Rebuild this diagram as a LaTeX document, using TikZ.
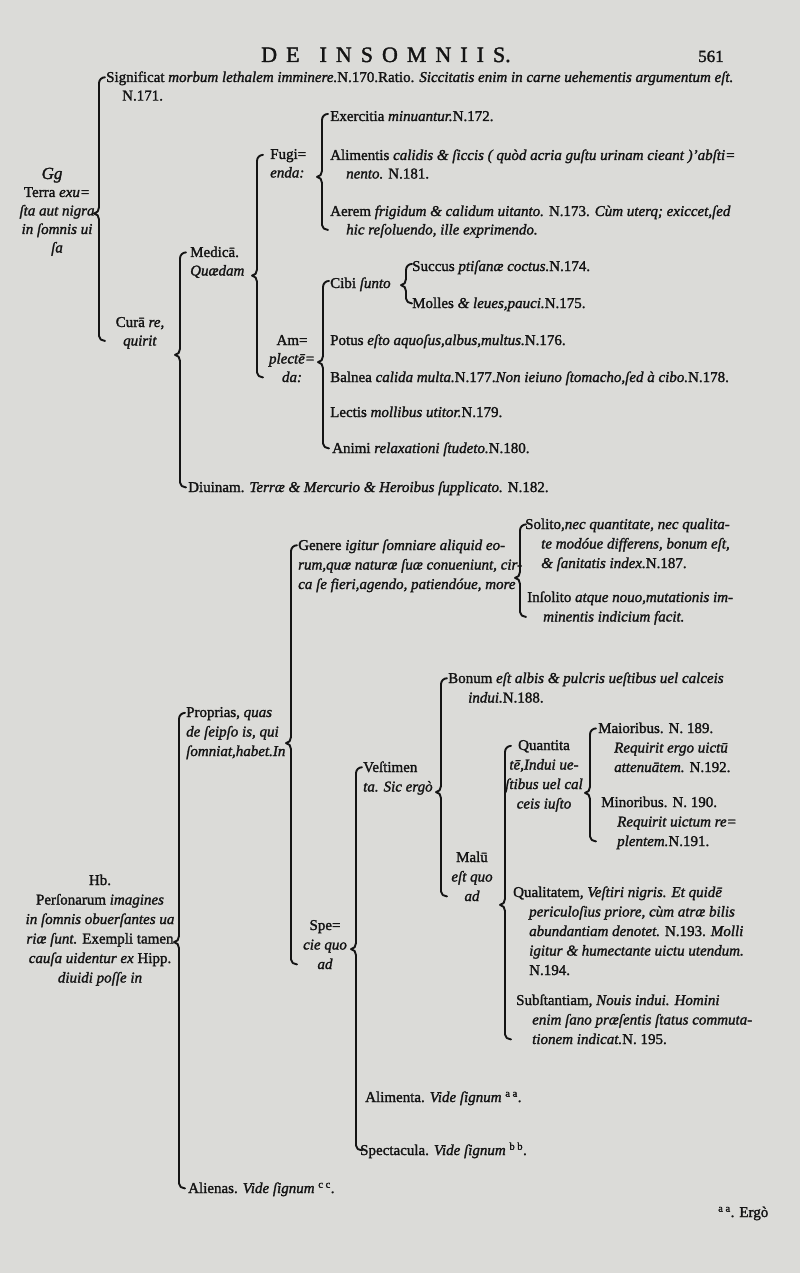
\documentclass[tikz,border=0pt]{standalone}
\usepackage{fontspec}
\setmainfont{Liberation Serif}[FakeBold=1.6]
\usetikzlibrary{calc}
\definecolor{paper}{RGB}{219,219,216}
\definecolor{ink}{RGB}{20,20,20}
\newcommand\vs{\vphantom{Ág}}
\newcommand\hind{\hspace*{16pt}}
\tikzset{
  txt/.style={anchor=base west, inner sep=0pt, align=left, text=ink,
    font=\fontsize{15}{18.5}\selectfont,
    execute at begin node=\vs, execute at end node=\vs},
  txtb/.style={txt, font=\fontsize{15}{19.5}\selectfont},
  ctxt/.style={txt, anchor=base, align=center},
  ctxtb/.style={txtb, anchor=base, align=center},
  brk/.style={draw=ink, line width=1.9pt, line cap=round, line join=round},
}
% #1 tip shift (px, down), #2 x, #3 top node, #4 bottom node, #5 parent node
% (node positions are given at the baseline of their LAST line)
\newcommand\tbrace[5][0]{%
  \draw[brk] let \p1=(#3.north), \p2=(#4.south), \p3=(#5.center), \p4=(#2,0),
      \n1={\y3-#1pt} in
    ({\x4+6pt},{\y1-6pt}) to[out=180,in=90] ({\x4},{\y1-12pt})
    -- ({\x4},{\n1+6pt}) to[out=-90,in=0] ({\x4-5pt},{\n1})
    to[out=0,in=90] ({\x4},{\n1-6pt})
    -- ({\x4},{\y2+13pt}) to[out=-90,in=180] ({\x4+6pt},{\y2+8pt});}
\begin{document}
\begin{tikzpicture}[x=1pt,y=-1pt]
\useasboundingbox (0,0) rectangle (800,1273);
\fill[paper] (0,0) rectangle (800,1273);

% header
\node[anchor=base, inner sep=0pt, text=ink, font=\fontsize{22}{22}\selectfont] (title) at (386,62)
  {D\hspace{9pt}E\hspace{20pt}I\hspace{9pt}N\hspace{9pt}S\hspace{9pt}O\hspace{9pt}M\hspace{9pt}N\hspace{9pt}I\hspace{9pt}I\hspace{9pt}S.};
\node[anchor=base west, inner sep=0pt, text=ink, font=\fontsize{17}{17}\selectfont] (page) at (698,62) {561};

% ---------- upper tree ----------
\node[txt] (sig) at (106,100.5) {Significat \textit{morbum lethalem imminere.}N.170.Ratio. \textit{Siccitatis enim in carne uehementis argumentum eſt.}\\\hind N.171.};
\node[ctxt, font=\fontsize{17}{17}\selectfont\itshape] (gg) at (52,179) {Gg};
\node[ctxt] (terra) at (57,252.5) {Terra \textit{exu=}\\\textit{ſta aut nigra}\\\textit{in ſomnis ui}\\\textit{ſa}};
\node[ctxt] (cura) at (140,345.5) {Curā \textit{re,}\\\textit{quirit}};
\node[txt] (medica) at (190,275.5) {Medicā.\\\textit{Quædam}};
\node[txt] (fugi) at (270,177.5) {Fugi=\\\textit{enda:}};
\node[txt] (ex) at (330,121) {Exercitia \textit{minuantur.}N.172.};
\node[txt] (alim) at (330,178.5) {Alimentis \textit{calidis \& ſiccis ( quòd acria guſtu urinam cieant )'abſti=}\\\hind\textit{nento.} N.181.};
\node[txt] (aer) at (330,234.5) {Aerem \textit{frigidum \& calidum uitanto.} N.173. \textit{Cùm uterq; exiccet,ſed}\\\hind\textit{hic reſoluendo, ille exprimendo.}};
\node[ctxt] (ampl) at (292,382) {Am=\\\textit{plectē=}\\\textit{da:}};
\node[txt] (cibi) at (330,288) {Cibi \textit{ſunto}};
\node[txt] (succus) at (412,271) {Succus \textit{ptiſanæ coctus.}N.174.};
\node[txt] (molles) at (412,308) {Molles \textit{\& leues,pauci.}N.175.};
\node[txt] (potus) at (330,345) {Potus \textit{eſto aquoſus,albus,multus.}N.176.};
\node[txt] (balnea) at (330,382) {Balnea \textit{calida multa.}N.177.\textit{Non ieiuno ſtomacho,ſed à cibo.}N.178.};
\node[txt] (lectis) at (330,417) {Lectis \textit{mollibus utitor.}N.179.};
\node[txt] (animi) at (332,453) {Animi \textit{relaxationi ſtudeto.}N.180.};
\node[txt] (diuinam) at (188,492) {Diuinam. \textit{Terræ \& Mercurio \& Heroibus ſupplicato.} N.182.};

\tbrace[-8]{99}{sig}{cura}{terra}
\tbrace[22]{180}{medica}{diuinam}{cura}
\tbrace[13]{257}{fugi}{ampl}{medica}
\tbrace[12]{322}{ex}{aer}{fugi}
\tbrace[2]{323}{cibi}{animi}{ampl}
\tbrace[2]{406}{succus}{molles}{cibi}

% ---------- lower tree ----------
\node[ctxtb] (hb) at (100,982.5) {Hb.\\Perſonarum \textit{imagines}\\\textit{in ſomnis obuerſantes ua}\\\textit{riæ ſunt.} Exempli tamen\\\textit{cauſa uidentur ex} Hipp.\\\textit{diuidi poſſe in}};
\node[txtb] (proprias) at (186,756) {Proprias, \textit{quas}\\\textit{de ſeipſo is, qui}\\\textit{ſomniat,habet.In}};
\node[txtb] (genere) at (298,589) {Genere \textit{igitur ſomniare aliquid eo-}\\\textit{rum,quæ naturæ ſuæ conueniunt, cir-}\\\textit{ca ſe fieri,agendo, patiendóue, more}};
\node[txtb] (solito) at (525,568) {Solito,\textit{nec quantitate, nec qualita-}\\\hind\textit{te modóue differens, bonum eſt,}\\\hind\textit{\& ſanitatis index.}N.187.};
\node[txtb] (insolito) at (527,621.5) {Inſolito \textit{atque nouo,mutationis im-}\\\hind\textit{minentis indicium facit.}};
\node[ctxtb] (specie) at (325,969) {Spe=\\\textit{cie quo}\\\textit{ad}};
\node[txtb] (vestimen) at (363,791.5) {Veſtimen\\\textit{ta. Sic ergò}};
\node[txtb] (bonum) at (448,702.5) {Bonum \textit{eſt albis \& pulcris ueſtibus uel calceis}\\\hspace*{20pt}\textit{indui.}N.188.};
\node[ctxtb] (malu) at (472,901) {Malū\\\textit{eſt quo}\\\textit{ad}};
\node[ctxtb] (quantita) at (544,808.5) {Quantita\\\textit{tē,Indui ue-}\\\textit{ſtibus uel cal}\\\textit{ceis iuſto}};
\node[txtb] (maior) at (598,772) {Maioribus. N. 189.\\\hind\textit{Requirit ergo uictū}\\\hind\textit{attenuātem.} N.192.};
\node[txtb] (minor) at (601,846) {Minoribus. N. 190.\\\hind\textit{Requirit uictum re=}\\\hind\textit{plentem.}N.191.};
\node[txtb] (qualit) at (513,975) {Qualitatem, \textit{Veſtiri nigris. Et quidē}\\\hind\textit{periculoſius priore, cùm atræ bilis}\\\hind\textit{abundantiam denotet.} N.193. \textit{Molli}\\\hind\textit{igitur \& humectante uictu utendum.}\\\hind N.194.};
\node[txtb] (subst) at (516,1044) {Subſtantiam, \textit{Nouis indui. Homini}\\\hind\textit{enim ſano præſentis ſtatus commuta-}\\\hind\textit{tionem indicat.}N. 195.};
\node[txtb] (alimenta) at (365,1102) {Alimenta. \textit{Vide ſignum} \textsuperscript{a a}.};
\node[txtb] (spectacula) at (360,1155) {Spectacula. \textit{Vide ſignum} \textsuperscript{b b}.};
\node[txtb] (alienas) at (188,1193) {Alienas. \textit{Vide ſignum} \textsuperscript{c c}.};
\node[txtb] (catch) at (718,1217) {\textsuperscript{a a}. Ergò};

\tbrace[12]{179}{proprias}{alienas}{hb}
\tbrace[10]{291}{genere}{specie}{proprias}
\tbrace[12]{520}{solito}{insolito}{genere}
\tbrace[3]{356}{vestimen}{spectacula}{specie}
\tbrace[14]{441}{bonum}{malu}{vestimen}
\tbrace[27]{505}{quantita}{subst}{malu}
\tbrace[17]{590}{maior}{minor}{quantita}
\end{tikzpicture}
\end{document}
